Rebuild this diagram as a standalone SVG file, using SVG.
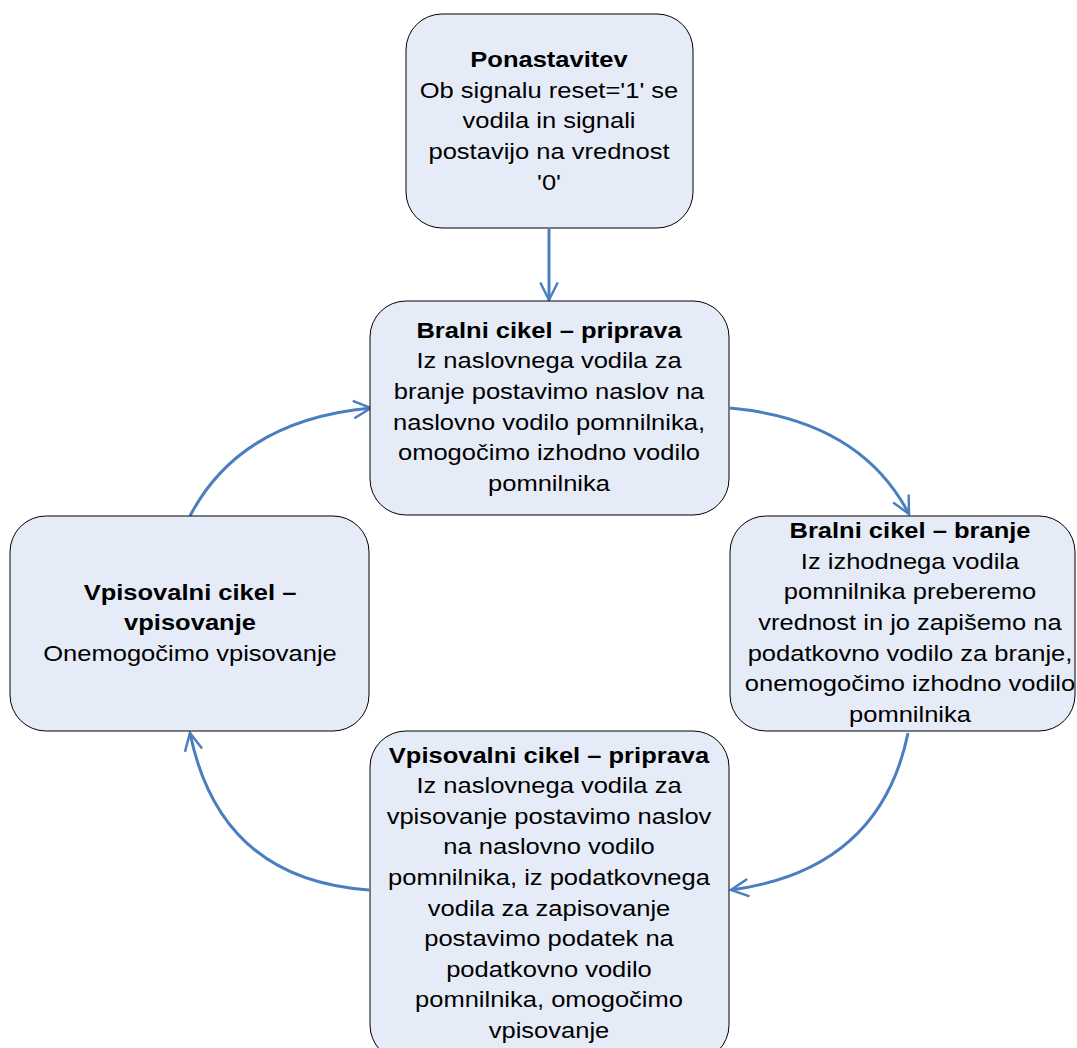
<svg xmlns="http://www.w3.org/2000/svg" width="1077" height="1048" viewBox="0 0 1077 1048">
  <defs>
    <style>
      .node rect { fill: #e6ecf7; stroke: #000; stroke-width: 1; }
      .node text { font-family: "Liberation Sans", Arial, sans-serif; font-size: 22px; fill: #000; text-anchor: middle; }
      .node .t { font-weight: bold; }
      .edge { fill: none; stroke: #4a7ebf; stroke-width: 3; marker-end: url(#open); }
    </style>
    <marker id="open" viewBox="0 0 12 12" refX="11" refY="6" markerWidth="7" markerHeight="7" markerUnits="strokeWidth" orient="auto">
      <path d="M1,1 L11,6 L1,11" fill="none" stroke="#4a7ebf" stroke-width="1.4"/>
    </marker>
  </defs>
  <rect width="1077" height="1048" fill="#fff"/>

  <g id="connectors">
    <path class="edge" d="M549,229 L549,300"/>
    <path class="edge" d="M730,408 Q860,420 909,514"/>
    <path class="edge" d="M908,733 Q880,870 731,890"/>
    <path class="edge" d="M369,890 Q220,880 190,733"/>
    <path class="edge" d="M190,516 Q240,420 371,408"/>
  </g>

  <g id="ponastavitev" class="node">
    <rect x="406" y="14" width="287" height="214" rx="36"/>
    <g transform="translate(549 0) scale(1.16 1)">
      <text x="0" y="67" class="t">Ponastavitev</text>
      <text x="0" y="98">Ob signalu reset='1' se</text>
      <text x="0" y="128">vodila in signali</text>
      <text x="0" y="159">postavijo na vrednost</text>
      <text x="0" y="190">'0'</text>
    </g>
  </g>

  <g id="bralni-priprava" class="node">
    <rect x="370" y="301" width="359" height="214" rx="36"/>
    <g transform="translate(549 0) scale(1.16 1)">
      <text x="0" y="338" class="t">Bralni cikel – priprava</text>
      <text x="0" y="368">Iz naslovnega vodila za</text>
      <text x="0" y="399">branje postavimo naslov na</text>
      <text x="0" y="430">naslovno vodilo pomnilnika,</text>
      <text x="0" y="460">omogočimo izhodno vodilo</text>
      <text x="0" y="491">pomnilnika</text>
    </g>
  </g>

  <g id="bralni-branje" class="node">
    <rect x="730" y="516" width="345" height="215" rx="36"/>
    <g transform="translate(910 0) scale(1.16 1)">
      <text x="0" y="538" class="t">Bralni cikel – branje</text>
      <text x="0" y="569">Iz izhodnega vodila</text>
      <text x="0" y="599">pomnilnika preberemo</text>
      <text x="0" y="630">vrednost in jo zapišemo na</text>
      <text x="0" y="661">podatkovno vodilo za branje,</text>
      <text x="0" y="691">onemogočimo izhodno vodilo</text>
      <text x="0" y="722">pomnilnika</text>
    </g>
  </g>

  <g id="vpisovalni-vpisovanje" class="node">
    <rect x="10" y="516" width="359" height="215" rx="36"/>
    <g transform="translate(190 0) scale(1.16 1)">
      <text x="0" y="600" class="t">Vpisovalni cikel –</text>
      <text x="0" y="630" class="t">vpisovanje</text>
      <text x="0" y="661">Onemogočimo vpisovanje</text>
    </g>
  </g>

  <g id="vpisovalni-priprava" class="node">
    <rect x="370" y="731" width="359" height="330" rx="36"/>
    <g transform="translate(549 0) scale(1.16 1)">
      <text x="0" y="763" class="t">Vpisovalni cikel – priprava</text>
      <text x="0" y="793">Iz naslovnega vodila za</text>
      <text x="0" y="824">vpisovanje postavimo naslov</text>
      <text x="0" y="854">na naslovno vodilo</text>
      <text x="0" y="885">pomnilnika, iz podatkovnega</text>
      <text x="0" y="916">vodila za zapisovanje</text>
      <text x="0" y="946">postavimo podatek na</text>
      <text x="0" y="977">podatkovno vodilo</text>
      <text x="0" y="1007">pomnilnika, omogočimo</text>
      <text x="0" y="1038">vpisovanje</text>
    </g>
  </g>
</svg>
